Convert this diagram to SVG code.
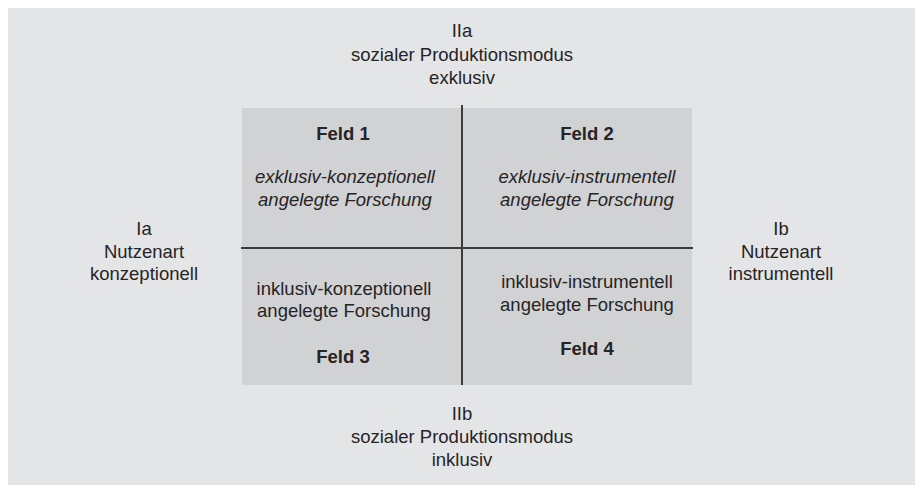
<svg xmlns="http://www.w3.org/2000/svg" width="915" height="485" viewBox="0 0 915 485">
<style>
text{font-family:"Liberation Sans",Arial,sans-serif;font-size:18.5px;fill:#262425;text-anchor:middle}
.b{font-weight:bold}
.i{font-style:italic}
.ln{stroke:#3c3c3c;stroke-width:2;fill:none}
</style>
<rect x="0" y="0" width="915" height="485" fill="#ffffff"/>
<rect x="8" y="8" width="907" height="477" fill="#e4e5e7"/>
<g id="quadrant">
<rect x="242" y="108" width="450" height="277" fill="#d1d2d4"/>
</g>
<g id="connectors">
<line class="ln" x1="462" y1="105" x2="462" y2="385"/>
<line class="ln" x1="241" y1="248" x2="693" y2="248"/>
</g>
<g id="top-label">
<text x="462" y="37">IIa</text>
<text x="462" y="61">sozialer Produktionsmodus</text>
<text x="462" y="84">exklusiv</text>
</g>
<g id="bottom-label">
<text x="462" y="420">IIb</text>
<text x="462" y="443">sozialer Produktionsmodus</text>
<text x="462" y="466">inklusiv</text>
</g>
<g id="left-label">
<text x="144" y="235">Ia</text>
<text x="144" y="257.5">Nutzenart</text>
<text x="144" y="280">konzeptionell</text>
</g>
<g id="right-label">
<text x="781" y="235">Ib</text>
<text x="781" y="257.5">Nutzenart</text>
<text x="781" y="280">instrumentell</text>
</g>
<g id="feld1">
<text class="b" x="343" y="140">Feld 1</text>
<text class="i" x="345" y="183">exklusiv-konzeptionell</text>
<text class="i" x="345" y="206">angelegte Forschung</text>
</g>
<g id="feld2">
<text class="b" x="587" y="140">Feld 2</text>
<text class="i" x="587" y="183">exklusiv-instrumentell</text>
<text class="i" x="587" y="206">angelegte Forschung</text>
</g>
<g id="feld3">
<text x="344" y="295">inklusiv-konzeptionell</text>
<text x="344" y="317">angelegte Forschung</text>
<text class="b" x="343" y="363">Feld 3</text>
</g>
<g id="feld4">
<text x="587" y="288">inklusiv-instrumentell</text>
<text x="587" y="311">angelegte Forschung</text>
<text class="b" x="587" y="355">Feld 4</text>
</g>
</svg>
